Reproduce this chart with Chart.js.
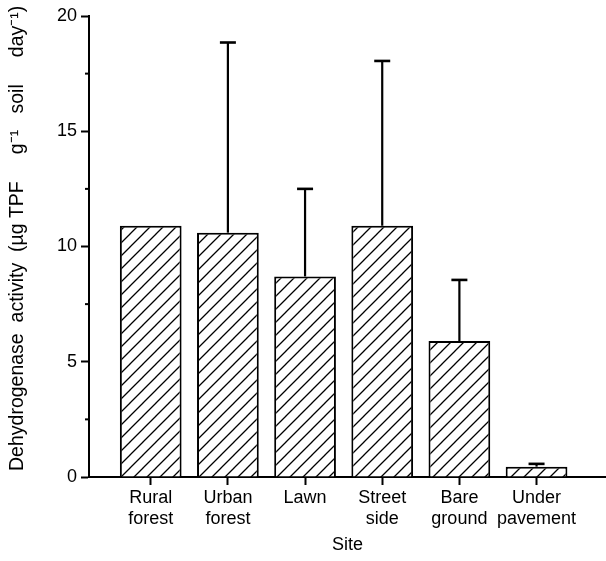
<!DOCTYPE html>
<html>
<head>
<meta charset="utf-8">
<script src="https://cdn.jsdelivr.net/npm/chart.js@4/dist/chart.umd.min.js"></script>
<style>
  html, body { margin: 0; padding: 0; background: #fff; }
  #wrap { width: 606px; height: 561px; position: relative; }
</style>
</head>
<body>
<div id="wrap"><canvas id="c"></canvas></div>
<script>
// Sites sampled and mean dehydrogenase activity with upper error (SD)
const sites = ['Rural forest', 'Urban forest', 'Lawn', 'Street side', 'Bare ground', 'Under pavement'];
const meanActivity = [10.9, 10.6, 8.7, 10.9, 5.9, 0.45];
const errActivity = [0, 8.25, 3.8, 7.15, 2.65, 0.12];
const yTicks = [0, 5, 10, 15, 20];
const yMinorTicks = [2.5, 7.5, 12.5, 17.5];

const FONT = "'Liberation Sans', Arial, Helvetica, sans-serif";

// diagonal hatch fill for the bars
function makeHatch() {
  const s = 13;
  const p = document.createElement('canvas');
  p.width = s; p.height = s;
  const g = p.getContext('2d');
  g.fillStyle = '#fff';
  g.fillRect(0, 0, s, s);
  g.strokeStyle = '#000';
  g.lineWidth = 1.3;
  g.beginPath();
  g.moveTo(-2, s + 2); g.lineTo(s + 2, -2);
  g.moveTo(-2, 2); g.lineTo(2, -2);
  g.moveTo(s - 2, s + 2); g.lineTo(s + 2, s - 2);
  g.stroke();
  return g.createPattern(p, 'repeat');
}

const ctx = document.getElementById('c').getContext('2d');

// upward error bars and minor y ticks
const extras = {
  id: 'extras',
  afterDatasetsDraw(chart) {
    const c = chart.ctx;
    const y = chart.scales.y;
    const meta = chart.getDatasetMeta(0);
    c.save();
    c.strokeStyle = '#000';
    c.lineCap = 'butt';
    meta.data.forEach((bar, i) => {
      const e = errActivity[i];
      if (!e) return;
      const top = y.getPixelForValue(meanActivity[i] + e);
      c.lineWidth = 2.2;
      c.beginPath();
      c.moveTo(bar.x, bar.y);
      c.lineTo(bar.x, top);
      c.stroke();
      c.lineWidth = 2.6;
      c.beginPath();
      c.moveTo(bar.x - 8, top);
      c.lineTo(bar.x + 8, top);
      c.stroke();
    });
    c.lineWidth = 2;
    const left = chart.chartArea.left;
    yMinorTicks.forEach(v => {
      const py = y.getPixelForValue(v);
      c.beginPath();
      c.moveTo(left - 4, py);
      c.lineTo(left, py);
      c.stroke();
    });
    c.restore();
  }
};

new Chart(ctx, {
  type: 'bar',
  data: {
    datasets: [{
      data: sites.map((s, i) => ({ x: i + 1, y: meanActivity[i] })),
      backgroundColor: makeHatch(),
      borderColor: '#000',
      borderWidth: 2,
      borderSkipped: 'bottom',
      barPercentage: 0.8,
      categoryPercentage: 1.0
    }]
  },
  options: {
    responsive: true,
    maintainAspectRatio: false,
    animation: false,
    devicePixelRatio: 1,
    layout: { padding: { top: 16, right: 0, left: 0, bottom: 0 } },
    plugins: { legend: { display: false }, tooltip: { enabled: false } },
    scales: {
      x: {
        type: 'linear',
        offset: false,
        min: 0.2,
        max: 6.9,
        afterFit(scale) { scale.height = 84; },
        afterBuildTicks(scale) { scale.ticks = sites.map((s, i) => ({ value: i + 1 })); },
        grid: { offset: false, drawOnChartArea: false, drawTicks: true, tickLength: 8, tickWidth: 2, tickColor: '#000' },
        border: { display: true, color: '#000', width: 2 },
        ticks: {
          autoSkip: false,
          maxRotation: 0,
          padding: 2,
          color: '#000',
          font: { family: FONT, size: 18, lineHeight: 1.2 },
          callback: (v) => {
            const s = sites[Math.round(v) - 1];
            return s ? s.split(' ') : '';
          }
        },
        title: {
          display: true,
          text: 'Site',
          color: '#000',
          font: { family: FONT, size: 18, lineHeight: 1.2 },
          padding: { top: 0, bottom: 5 }
        }
      },
      y: {
        min: 0,
        max: 20,
        afterFit(scale) { scale.width = 89; },
        afterBuildTicks(scale) { scale.ticks = yTicks.map(v => ({ value: v })); },
        grid: { drawOnChartArea: false, drawTicks: true, tickLength: 8, tickWidth: 2, tickColor: '#000' },
        border: { display: true, color: '#000', width: 2 },
        ticks: {
          padding: 4,
          color: '#000',
          font: { family: FONT, size: 18 }
        },
        title: {
          display: true,
          text: '   Dehydrogenase  activity  (\u00b5g TPF     g\u207b\u00b9   soil     day\u207b\u00b9)',
          color: '#000',
          font: { family: FONT, size: 19.5, lineHeight: 1.2 },
          padding: { top: 6, bottom: 0 }
        }
      }
    }
  },
  plugins: [extras]
});
</script>
</body>
</html>
